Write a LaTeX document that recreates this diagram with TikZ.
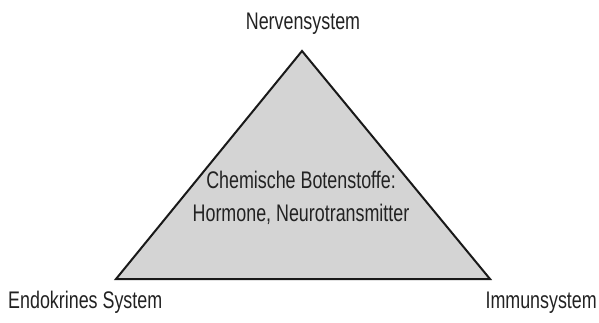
\documentclass[tikz,border=0pt]{standalone}
\usepackage{fontspec}
\setmainfont{Liberation Sans}[FakeStretch=0.745]
\usepackage{xcolor}
\definecolor{cfill}{RGB}{212,212,212}
\definecolor{ctext}{RGB}{34,34,34}

\begin{document}
\begin{tikzpicture}[
    x=1pt, y=-1pt,
    label/.style={font=\fontsize{24}{33}\selectfont, text=ctext, inner sep=0pt, align=center}
  ]
  \useasboundingbox (0,0) rectangle (599,322);

  % corners of the triangle
  \coordinate (top) at (302,51);
  \coordinate (left) at (116,279);
  \coordinate (right) at (490,279);

  \draw[line width=2pt, line join=miter, fill=cfill, draw=black!90] (top) -- (right) -- (left) -- cycle;

  \node[label, anchor=base] (nerv) at (303,29.5) {Nervensystem};
  \node[label, anchor=base west] (endo) at (8,308) {Endokrines System};
  \node[label, anchor=base east] (immun) at (597,308) {Immunsystem};
  \node[label] (chem) at (301,198) {Chemische Botenstoffe:\\Hormone, Neurotransmitter};
\end{tikzpicture}
\end{document}
